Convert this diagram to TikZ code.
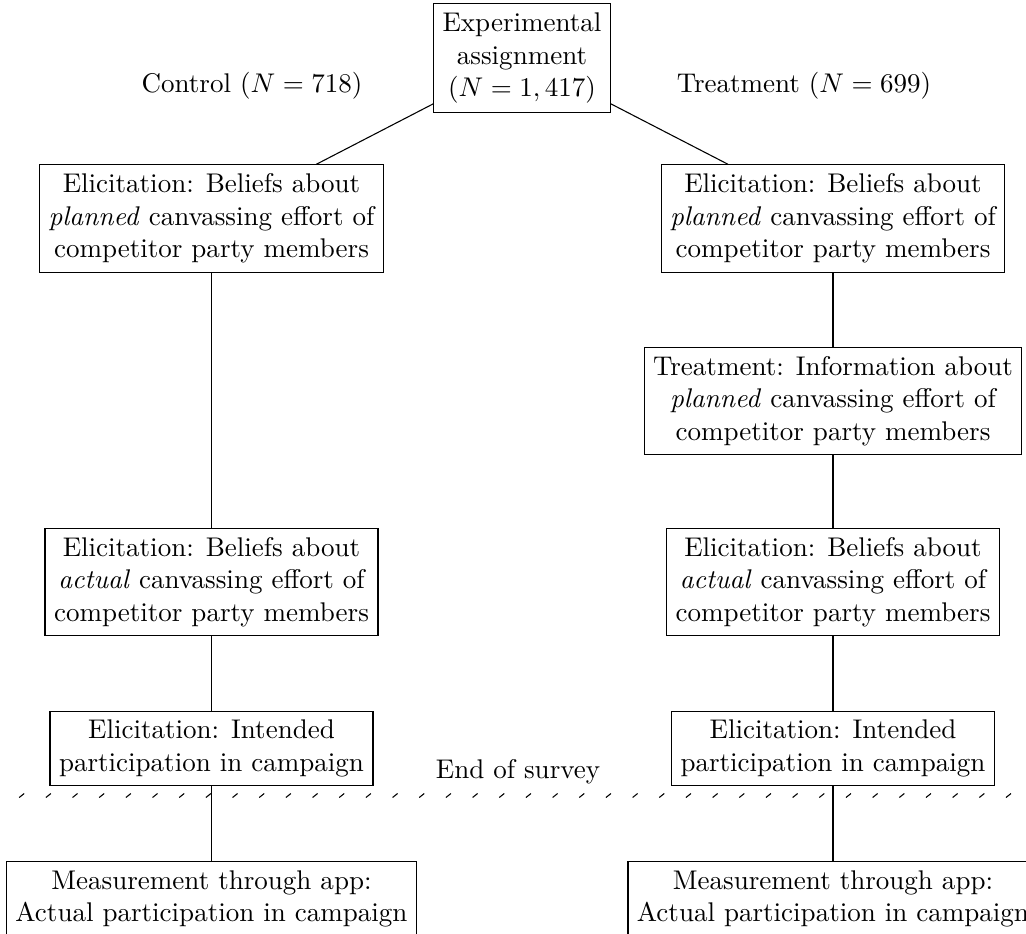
\documentclass[tikz,border=0pt]{standalone}
\begin{document}
\begin{tikzpicture}[x=0.37pt,y=-0.37pt,
  box/.style={draw,align=center},
  lbl/.style={align=center}]
\useasboundingbox (0,0) rectangle (1026,933);
\node[box] (top) at (522,58) {Experimental\\assignment\\($N=1,417$)};
\node[lbl] (ctrl) at (252,86) {Control ($N=718$)};
\node[lbl] (treat) at (804,86) {Treatment ($N=699$)};
\node[box] (l1) at (211.5,218.5) {Elicitation: Beliefs about\\\textit{planned} canvassing effort of\\competitor party members};
\node[box] (r1) at (833,218.5) {Elicitation: Beliefs about\\\textit{planned} canvassing effort of\\competitor party members};
\node[box] (rt) at (833,401) {Treatment: Information about\\\textit{planned} canvassing effort of\\competitor party members};
\node[box] (l2) at (211.5,582) {Elicitation: Beliefs about\\\textit{actual} canvassing effort of\\competitor party members};
\node[box] (r2) at (833,582) {Elicitation: Beliefs about\\\textit{actual} canvassing effort of\\competitor party members};
\node[box] (l3) at (211.5,748.5) {Elicitation: Intended\\participation in campaign};
\node[box] (r3) at (833,748.5) {Elicitation: Intended\\participation in campaign};
\node[lbl] (eos) at (518,772) {End of survey};
\node[box] (l4) at (211.5,899) {Measurement through app:\\Actual participation in campaign};
\node[box] (r4) at (833,899) {Measurement through app:\\Actual participation in campaign};
\draw (top) -- (l1);
\draw (top) -- (r1);
\draw (l1) -- (l2);
\draw (l2) -- (l3);
\draw (l3) -- (l4);
\draw (r1) -- (rt);
\draw (rt) -- (r2);
\draw (r2) -- (r3);
\draw (r3) -- (r4);
\foreach \x in {21.7,48.37,...,1012} \draw (\x-2.5,797.5) -- (\x+2.5,793.5);
\end{tikzpicture}
\end{document}
